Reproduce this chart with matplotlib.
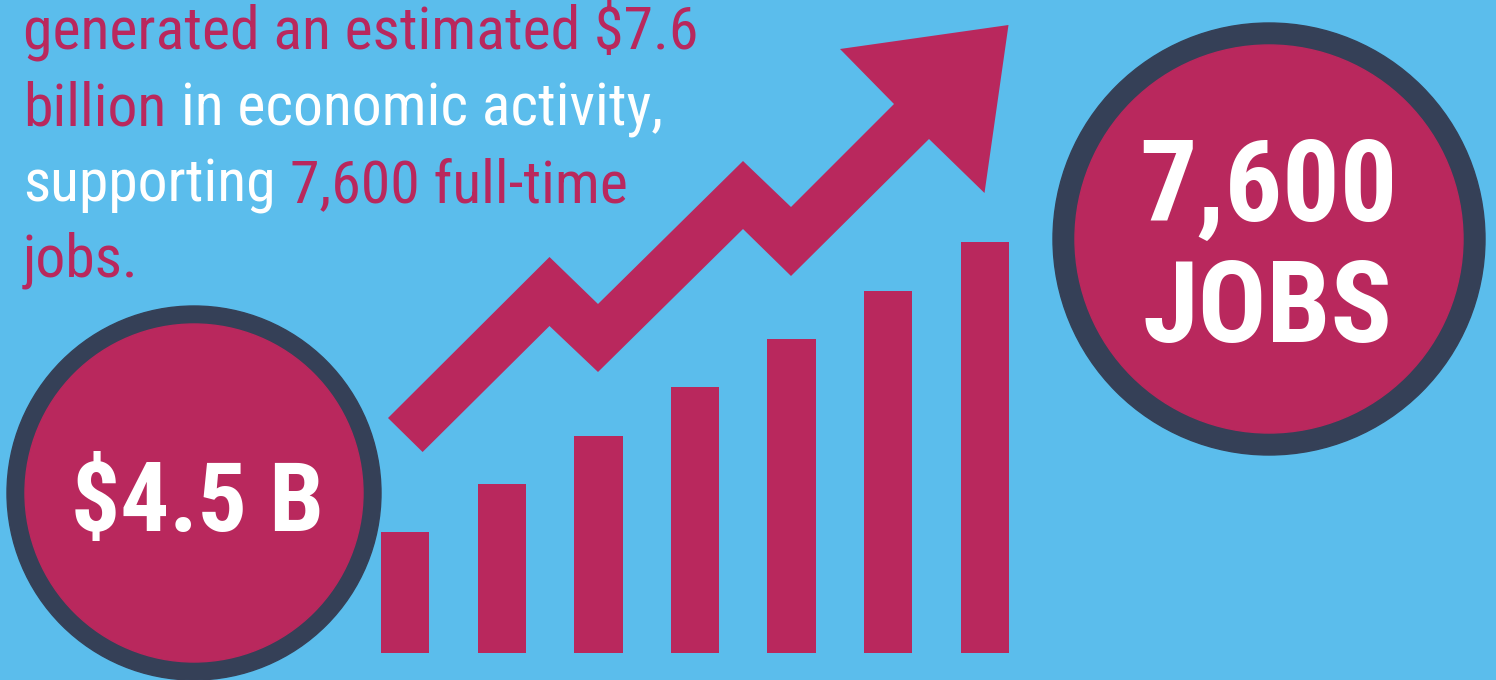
import matplotlib
matplotlib.use("Agg")
import matplotlib.pyplot as plt
from matplotlib import font_manager
from matplotlib.patches import Circle, Polygon

# colours
bg = "#5bbdec"
magenta = "#b9285d"
ring = "#354057"
white = "#ffffff"

# bar heights (in steps of the smallest increment)
bar_values = [2.5, 3.5, 4.5, 5.5, 6.5, 7.5, 8.5]
bar_pos = list(range(len(bar_values)))

# headline text, one list of (text, colour) per line
lines = [
    [("generated an estimated $7.6", magenta)],
    [("billion", magenta), ("in economic activity,", white)],
    [("supporting", white), ("7,600 full-time", magenta)],
    [("jobs.", magenta)],
]
left_label = "$4.5 B"
right_label = ["7,600", "JOBS"]

# zigzag arrow outline (pixel grid, y measured from top)
arrow_x = [388, 549.5, 598, 743, 791, 894, 840, 1008.5, 984.5, 929, 791, 743, 598, 549.5, 422.6]
arrow_y = [418, 257, 304, 161, 207, 104, 49, 25, 193, 139, 276, 229, 372, 326, 452]

names = {f.name for f in font_manager.fontManager.ttflist}
fam = "Roboto Condensed" if "Roboto Condensed" in names else "Roboto"
k = 1.0 if fam == "Roboto Condensed" else 0.92

W, H = 1496, 680
fig = plt.figure(figsize=(W / 100, H / 100), dpi=100)
fig.patch.set_facecolor(bg)
ax = fig.add_axes([0, 0, 1, 1])
ax.set_xlim(0, W)
ax.set_ylim(0, H)
ax.axis("off")

# circles
ax.add_patch(Circle((194, H - 493), 187, color=ring, zorder=1))
ax.add_patch(Circle((194, H - 493), 169, color=magenta, zorder=2))
ax.add_patch(Circle((1269, H - 239), 216, color=ring, zorder=1))
ax.add_patch(Circle((1269, H - 239), 194, color=magenta, zorder=2))

# arrow
ax.add_patch(Polygon(list(zip(arrow_x, [H - y for y in arrow_y])), closed=True,
                     color=magenta, lw=0, zorder=3))

# headline, coloured pieces placed one after another
fs = 43 * k
space = 14.5 * k
baselines = [50, 126, 201.7, 276.7]
for parts, yb in zip(lines, baselines):
    prev = None
    for s, c in parts:
        if prev is None:
            prev = ax.text(23, H - yb, s, color=c, fontsize=fs, family=fam,
                           ha="left", va="baseline", zorder=5)
        else:
            prev = ax.annotate(s, xy=(1, 0), xycoords=prev, xytext=(space, 0),
                               textcoords="offset pixels", color=c, fontsize=fs,
                               family=fam, ha="left", va="bottom", zorder=5)

# circle labels
ax.text(197, H - 530.7, left_label, color=white, fontsize=70 * k, family=fam,
        fontweight="bold", ha="center", va="baseline", zorder=5)
ax.text(1268, H - 221, right_label[0], color=white, fontsize=82 * k, family=fam,
        fontweight="bold", ha="center", va="baseline", zorder=5)
ax.text(1268, H - 342, right_label[1], color=white, fontsize=82 * k, family=fam,
        fontweight="bold", ha="center", va="baseline", zorder=5)

# bars on their own axes
unit = 48.3
left_px, right_px = 405 - 48.3, 985 + 48.3
bottom_px = H - 653
bx = fig.add_axes([left_px / W, bottom_px / H, (right_px - left_px) / W, 9 * unit / H])
bx.set_xlim(-0.5, 6.5)
bx.set_ylim(0, 9)
bx.patch.set_alpha(0)
bx.axis("off")
bx.bar(bar_pos, bar_values, width=0.5, color=magenta)

fig.savefig("out.png", dpi=100, facecolor=bg)
